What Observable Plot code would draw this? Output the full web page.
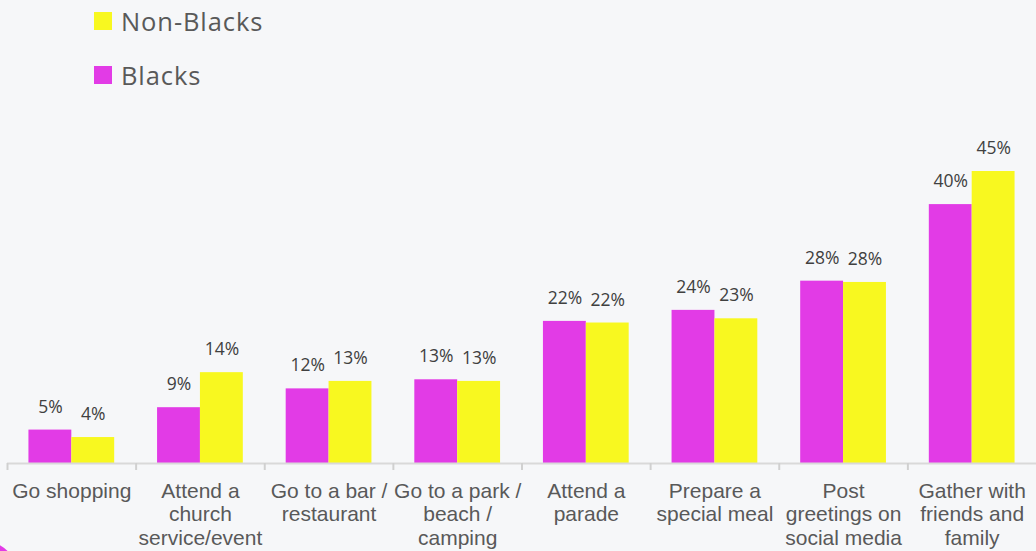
<!DOCTYPE html>
<html>
<head>
<meta charset="utf-8">
<script src="https://cdn.jsdelivr.net/npm/d3@7"></script>
<script src="https://cdn.jsdelivr.net/npm/@observablehq/plot@0.6"></script>
<style>
  html, body { margin: 0; padding: 0; background: #f6f7f9; width: 1036px; height: 551px; overflow: hidden; position: relative; }
  #legend { position: relative; height: 100px; font-family: "Open Sans", sans-serif; font-size: 25.5px; color: #595959; letter-spacing: 0.9px; }
  .item { position: absolute; left: 94px; display: flex; align-items: center; height: 30px; }
  .sw { width: 18px; height: 18px; margin-right: 9px; }
  #corner { position: absolute; left: -60px; bottom: -69px; width: 80px; height: 80px; border-radius: 50%; background: #e23be6; }
</style>
</head>
<body>
<div id="legend"></div>
<div id="chart"></div>
<div id="corner"></div>
<script>
const categories = ["Go shopping", "Attend a church service/event", "Go to a bar / restaurant", "Go to a park / beach / camping", "Attend a parade", "Prepare a special meal", "Post greetings on social media", "Gather with friends and family"];
const tickLabels = ["Go shopping", "Attend a\nchurch\nservice/event", "Go to a bar /\nrestaurant", "Go to a park /\nbeach /\ncamping", "Attend a\nparade", "Prepare a\nspecial meal", "Post\ngreetings on\nsocial media", "Gather with\nfriends and\nfamily"];
const seriesNames = ["Blacks", "Non-Blacks"];
const seriesColors = ["#e23be6", "#f8f820"];
const blacks = [5.15, 8.6, 11.5, 12.9, 21.9, 23.6, 28.1, 39.9];
const nonBlacks = [4.0, 14.0, 12.65, 12.65, 21.65, 22.3, 27.9, 45.0];
const blackLabels = ["5%", "9%", "12%", "13%", "22%", "24%", "28%", "40%"];
const nonBlackLabels = ["4%", "14%", "13%", "13%", "22%", "23%", "28%", "45%"];

const data = [];
categories.forEach((c, i) => {
  data.push({category: c, series: seriesNames[0], value: blacks[i], label: blackLabels[i]});
  data.push({category: c, series: seriesNames[1], value: nonBlacks[i], label: nonBlackLabels[i]});
});

// Legend (Non-Blacks on top, Blacks below)
const legend = document.getElementById("legend");
[[1, 6], [0, 60]].forEach(([k, top]) => {
  const it = document.createElement("div");
  it.className = "item";
  it.style.top = top + "px";
  it.innerHTML = `<div class="sw" style="background:${seriesColors[k]}"></div><span>${seriesNames[k]}</span>`;
  legend.appendChild(it);
});

const W = 1036, ML = 7, MR = 0;
const step = (W - ML - MR) / categories.length;
const labelOf = new Map(categories.map((c, i) => [c, tickLabels[i]]));

const chart = Plot.plot({
  width: W,
  height: 451,
  marginLeft: ML,
  marginRight: MR,
  marginTop: 71,
  marginBottom: 88,
  style: {background: "transparent", overflow: "visible"},
  fx: {domain: categories, padding: 0, label: null, round: false},
  x: {domain: seriesNames, paddingInner: 0, paddingOuter: 0.5, axis: null, round: false},
  y: {domain: [0, 45], axis: null},
  color: {domain: seriesNames, range: seriesColors},
  marks: [
    Plot.barY(data, {fx: "category", x: "series", y: "value", fill: "series"}),
    Plot.text(data, {fx: "category", x: "series", y: "value", text: "label",
      dy: -23, fontSize: 17.5, fontFamily: "Open Sans", fill: "#404040", letterSpacing: "0.8px"}),
    Plot.ruleY([0], {stroke: "#d9d9d9", strokeWidth: 2}),
    Plot.axisFx({anchor: "bottom", tickSize: 7, tickFormat: () => "", dx: -step / 2, stroke: "#d0d0d0", strokeWidth: 2, label: null}),
    Plot.axisFx({anchor: "bottom", tickSize: 0, tickPadding: 17, tickFormat: d => labelOf.get(d), fontSize: 21,
      fontFamily: "Liberation Sans", fill: "#595959", lineHeight: 1.14, label: null})
  ]
});
document.getElementById("chart").appendChild(chart);
</script>
</body>
</html>
